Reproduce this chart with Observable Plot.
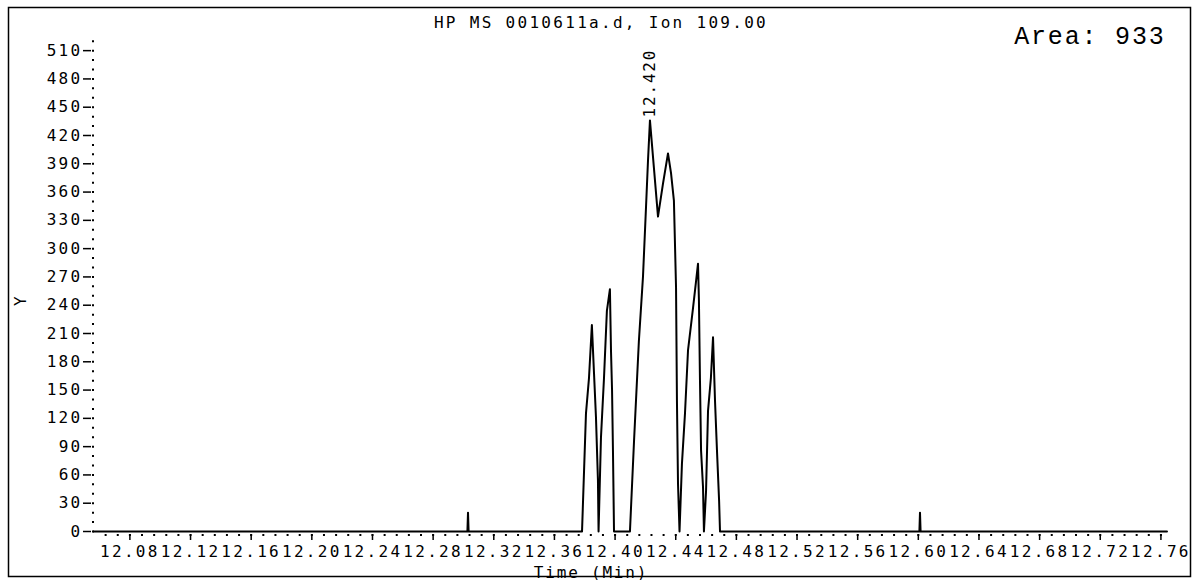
<!DOCTYPE html>
<html><head><meta charset="utf-8">
<script src="https://cdn.jsdelivr.net/npm/d3@7"></script>
<script src="https://cdn.jsdelivr.net/npm/@observablehq/plot@0.6"></script>
<style>
body{margin:0;background:#fff}
g[aria-label="x-axis tick label"] text, g[aria-label="y-axis tick label"] text {letter-spacing:2.3px}
</style>
</head><body><div id="chart"></div>
<script>
const title = "HP MS 0010611a.d, Ion 109.00";
const areaText = "Area: 933";
const yLabel = "Y";
const xLabel = "Time (Min)";
const peakLabel = "12.420";
const peakTime = 12.4230;
const peakValue = 436;

const times = [12.056, 12.3026, 12.3030, 12.3034,
  12.3782, 12.3808, 12.3828, 12.3847, 12.3861, 12.3874, 12.3887, 12.3891,
  12.3907, 12.3927, 12.3946, 12.3966, 12.3973, 12.3980, 12.3986, 12.3993,
  12.4098, 12.4125, 12.4157, 12.4184, 12.4204, 12.4217, 12.4230, 12.4256,
  12.4283, 12.4316, 12.4349, 12.4369, 12.4388, 12.4402, 12.4408, 12.4415,
  12.4425, 12.4441, 12.4461, 12.4481, 12.4514, 12.4533, 12.4547, 12.4553,
  12.4560, 12.4567, 12.4580, 12.4586, 12.4600, 12.4613, 12.4632, 12.4646,
  12.4659, 12.4672, 12.4686, 12.4692,
  12.6007, 12.6011, 12.6015, 12.764];
const intensities = [0, 0, 20, 0,
  0, 125, 163, 219, 168, 121, 54, 0,
  100, 163, 234, 257, 192, 150, 86, 0,
  0, 96, 202, 270, 344, 393, 436, 386,
  334, 369, 401, 380, 351, 259, 139, 51,
  0, 72, 125, 192, 237, 264, 284, 245,
  160, 86, 47, 0, 43, 128, 163, 206,
  139, 86, 33, 0,
  0, 20, 0, 0];

const xTicks = [12.08, 12.12, 12.16, 12.20, 12.24, 12.28, 12.32, 12.36, 12.40,
  12.44, 12.48, 12.52, 12.56, 12.60, 12.64, 12.68, 12.72, 12.76];
const yTicks = [0, 30, 60, 90, 120, 150, 180, 210, 240, 270, 300, 330, 360,
  390, 420, 450, 480, 510];
const xMinor = d3.range(0, 88).map(i => 12.064 + i * 0.008);
const yMinor = d3.range(0, 53).map(i => i * 10);

const data = times.map((t, i) => ({t, v: intensities[i]}));

const chart = Plot.plot({
  width: 1192, height: 580,
  marginLeft: 93, marginRight: 24, marginTop: 36, marginBottom: 49,
  style: {fontFamily: "'DejaVu Sans Mono', monospace", fontSize: "16px", color: "#000", background: "#fff"},
  x: {domain: [12.056, 12.765]},
  y: {domain: [0, 525]},
  marks: [
    Plot.axisY({ticks: yMinor, tickSize: 2, strokeWidth: 2, tickFormat: () => "", label: null, dx: 1}),
    Plot.axisY({ticks: yTicks, tickSize: 8, tickPadding: 1, strokeWidth: 1.5, label: null, tickFormat: d => String(d), dx: -2}),
    Plot.axisX({ticks: xMinor, tickSize: 2, strokeWidth: 2, tickFormat: () => "", label: null, dy: 3}),
    Plot.axisX({ticks: xTicks, tickSize: 6, tickPadding: 5, strokeWidth: 1.5, label: null, tickFormat: d => d.toFixed(2), dy: 3}),
    Plot.line(data, {x: "t", y: "v", stroke: "#000", strokeWidth: 2}),
    Plot.text([{t: peakTime, v: peakValue, s: peakLabel}], {x: "t", y: "v", text: "s", rotate: -90, textAnchor: "start", dy: -3, fontSize: 16}),
    Plot.text([title], {frameAnchor: "top", dx: -30, dy: -9, lineAnchor: "bottom", fontSize: 16}),
    Plot.text([areaText], {frameAnchor: "top-right", dx: -3, dy: 7, textAnchor: "end", lineAnchor: "bottom", fontSize: 25, fontFamily: "'Liberation Mono', 'Courier New', monospace"}),
    Plot.text([yLabel], {frameAnchor: "left", dx: -73, dy: 22, rotate: -90, fontSize: 16}),
    Plot.text([xLabel], {frameAnchor: "bottom", dx: -40, dy: 46, lineAnchor: "bottom", fontSize: 16})
  ]
});
const svg = d3.select(chart);
svg.selectAll('g[aria-label="text"] text').style("letter-spacing", "1.8px");
svg.selectAll('g[aria-label="text"] text').filter(function() { return this.textContent === title; }).style("letter-spacing", "2.3px");
svg.append("rect").attr("x", 8.5).attr("y", 7.5).attr("width", 1182).attr("height", 569)
  .attr("fill", "none").attr("stroke", "#000").attr("stroke-width", 1.5);
document.getElementById("chart").appendChild(chart);
</script>
</body></html>
